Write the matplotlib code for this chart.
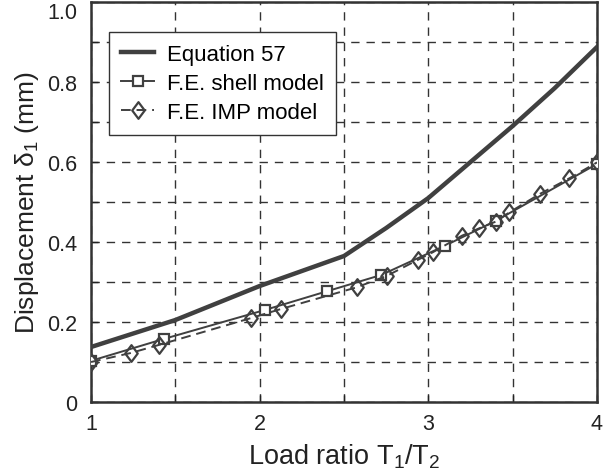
import matplotlib
matplotlib.use('Agg')
import matplotlib.pyplot as plt
from matplotlib.path import Path

plt.rcParams['font.family'] = ['Liberation Sans', 'DejaVu Sans']
plt.rcParams['mathtext.default'] = 'regular'

# Equation 57 curve
eq_x = [1.0, 1.5, 2.0, 2.5, 2.75, 3.0, 3.25, 3.5, 3.75, 4.0]
eq_y = [0.1375, 0.205, 0.29, 0.365, 0.435, 0.51, 0.60, 0.69, 0.785, 0.8875]

# F.E. shell model
shell_x = [1.0, 1.43, 2.03, 2.40, 2.72, 3.10, 3.40, 4.0]
shell_y = [0.103, 0.1575, 0.23, 0.277, 0.3175, 0.391, 0.453, 0.595]

# F.E. IMP model
imp_x = [1.0, 1.235, 1.405, 1.95, 2.126, 2.575, 2.757, 2.936, 3.025,
         3.20, 3.30, 3.40, 3.48, 3.66, 3.835, 4.0]
imp_y = [0.10, 0.1225, 0.143, 0.21, 0.2325, 0.2867, 0.316, 0.355, 0.374,
         0.416, 0.434, 0.451, 0.474, 0.52, 0.559, 0.599]

col = '#404040'
txt = '#222222'
diamond = Path([(0, 1), (0.75, 0), (0, -1), (-0.75, 0), (0, 1)],
               [Path.MOVETO, Path.LINETO, Path.LINETO, Path.LINETO, Path.CLOSEPOLY])

fig = plt.figure(figsize=(6.04, 4.77), dpi=100)
ax = fig.add_axes([0.1507, 0.1551, 0.8377, 0.8386])

ax.plot(eq_x, eq_y, color=col, lw=3.2, label='Equation 57', zorder=3)
ax.plot(shell_x, shell_y, color=col, lw=1.4, marker='s', markersize=7,
        markerfacecolor='white', markeredgecolor=col, markeredgewidth=1.6,
        label='F.E. shell model', zorder=4)
ax.plot(imp_x, imp_y, color=col, lw=1.4, ls=(0, (5, 3)), marker=diamond, markersize=12,
        markerfacecolor='none', markeredgecolor=col, markeredgewidth=1.6,
        label='F.E. IMP model', zorder=5)

ax.set_xlim(1, 4)
ax.set_ylim(0, 1.0)
ax.set_xticks([1, 1.5, 2, 2.5, 3, 3.5, 4])
ax.set_xticklabels(['1', '', '2', '', '3', '', '4'])
ax.set_yticks([0, 0.1, 0.2, 0.3, 0.4, 0.5, 0.6, 0.7, 0.8, 0.9, 1.0])
ax.set_yticklabels(['0', '', '0.2', '', '0.4', '', '0.6', '', '0.8', '', '1.0'])
ax.tick_params(direction='in', length=5, width=1, labelsize=15.5, colors=txt)
ax.tick_params(axis='y', pad=10)
ax.tick_params(axis='x', pad=8)
ax.get_yticklabels()[-1].set_va('top')
ax.grid(True, color='#333333', ls=(0, (6, 5)), lw=1)
for s in ax.spines.values():
    s.set_linewidth(1.8)
    s.set_color('#333333')

ax.set_xlabel('Load ratio T$_1$/T$_2$', fontsize=19.5, color=txt, labelpad=5)
ax.set_ylabel('Displacement δ$_1$ (mm)', fontsize=19, color=txt, labelpad=4)

leg = ax.legend(loc='upper left', bbox_to_anchor=(0.035, 0.925), fontsize=16,
                frameon=True, fancybox=False, edgecolor='#333333', framealpha=1,
                handlelength=1.5, handletextpad=0.55, borderpad=0.55, labelspacing=0.35,
                borderaxespad=0)
leg.get_frame().set_linewidth(1)

fig.savefig('out.png', dpi=100)
